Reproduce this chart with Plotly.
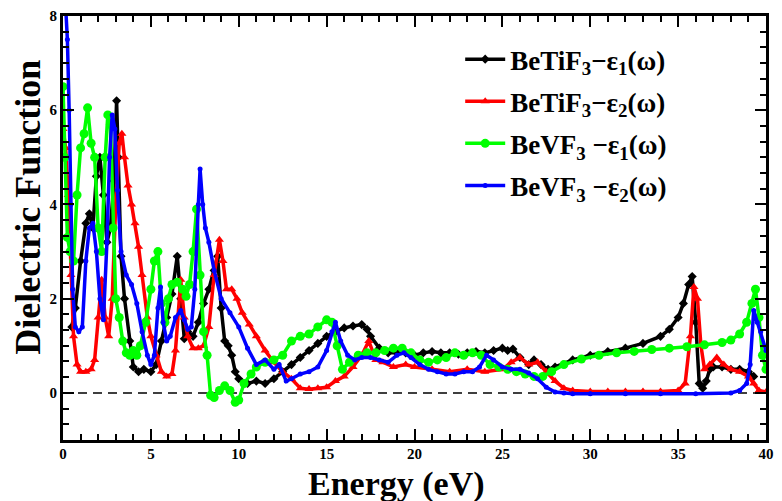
import plotly.graph_objects as go

# ---------------- data ----------------
bt_e1_x = [0.5, 0.7, 1.0, 1.3, 1.5, 1.7, 1.9, 2.1, 2.3, 2.5, 2.7, 2.9, 3.05, 3.15, 3.3, 3.5, 3.8, 4.0, 4.3, 4.6,
           5.0, 5.3, 5.6, 5.9, 6.2, 6.5, 6.7, 6.9, 7.1, 7.4, 7.7, 8.0, 8.3, 8.6, 8.8, 9.0, 9.2, 9.4, 9.6, 9.8,
           10.0, 10.5, 11.0, 11.5, 12.0, 12.5, 13.0, 13.5, 14.0, 14.5, 15.0, 15.5, 16.0, 16.5, 17.0, 17.3, 17.5,
           18.0, 18.5, 19.0, 19.5, 20.0, 20.5, 21.0, 21.5, 22.0, 22.5, 23.0, 23.5, 24.0, 24.5, 25.0, 25.3, 25.6,
           26.0, 26.5, 26.8, 27.2, 27.6, 28.0, 29.0, 30.0, 31.0, 32.0, 33.0, 34.0, 34.5, 35.0, 35.3, 35.6, 35.8,
           36.0, 36.2, 36.4, 36.6, 36.8, 37.0, 37.5, 38.0, 38.5, 39.0, 39.3]
bt_e1_y = [1.4, 1.8, 2.8, 3.6, 3.8, 3.5, 4.6, 5.0, 4.2, 3.2, 3.5, 4.5, 6.2, 5.0, 2.9, 2.0, 1.1, 0.55, 0.45, 0.5,
           0.45, 0.6, 1.1, 1.6, 2.1, 2.9, 2.0, 1.15, 1.3, 1.2, 1.5, 1.9, 2.2, 2.6, 2.9, 1.8, 1.1, 1.0, 0.8, 0.45,
           0.3, 0.2, 0.25, 0.2, 0.3, 0.45, 0.6, 0.75, 0.9, 1.05, 1.2, 1.3, 1.38, 1.42, 1.45, 1.35, 1.2,
           0.95, 0.85, 0.85, 0.85, 0.8, 0.85, 0.88, 0.85, 0.85, 0.82, 0.85, 0.88, 0.85, 0.9, 0.95, 0.9, 0.93,
           0.75, 0.6, 0.7, 0.6, 0.5, 0.55, 0.7, 0.8, 0.88, 0.95, 1.05, 1.2, 1.35, 1.6, 1.9, 2.3, 2.47,
           1.5, 0.2, 0.1, 0.25, 0.5, 0.55, 0.55, 0.5, 0.5, 0.45, 0.35]

bt_e2_x = [0.0, 0.15, 0.3, 0.45, 0.6, 0.8, 1.0, 1.3, 1.6, 1.8, 2.0, 2.2, 2.4, 2.6, 2.8, 3.0, 3.2, 3.35, 3.5, 3.7,
           3.9, 4.1, 4.3, 4.5, 4.8, 5.0, 5.3, 5.6, 5.9, 6.2, 6.4, 6.7, 6.9, 7.1, 7.4, 7.7, 8.0, 8.3, 8.6, 8.9,
           9.1, 9.3, 9.6, 9.9, 10.2, 10.6, 11.0, 11.5, 12.0, 12.5, 13.0, 13.5, 14.0, 14.5, 15.0, 15.5, 16.0,
           16.5, 17.0, 17.4, 17.8, 18.2, 18.8, 19.5, 20.0, 21.0, 22.0, 23.0, 24.0, 25.0, 25.5, 26.0, 26.5,
           27.0, 27.5, 28.0, 28.5, 29.0, 30.0, 31.0, 32.0, 33.0, 34.0, 35.0, 35.4, 35.7, 35.9, 36.1, 36.3,
           36.5, 36.8, 37.2, 37.6, 38.0, 38.5, 39.0, 39.3, 39.6, 40.0]
bt_e2_y = [5.6, 5.2, 4.2, 2.5, 1.2, 0.6, 0.45, 0.45, 0.5, 0.7, 1.6, 2.4, 1.6, 1.2, 2.0, 4.0, 5.3, 5.5, 5.0, 4.4,
           4.0, 3.6, 3.1, 2.5, 1.6, 1.2, 0.8, 0.45, 0.35, 0.4, 0.9, 2.4, 1.6, 1.2, 0.95, 0.95, 1.0, 1.4, 2.5, 3.25,
           2.8, 2.2, 2.2, 2.0, 1.7, 1.45, 1.2, 0.9, 0.65, 0.45, 0.3, 0.1, 0.08, 0.1, 0.12, 0.25, 0.35,
           0.55, 0.8, 1.1, 0.7, 0.65, 0.55, 0.6, 0.55, 0.5, 0.45, 0.5, 0.45, 0.5, 0.65, 0.75, 0.6,
           0.65, 0.45, 0.25, 0.1, 0.05, 0.03, 0.03, 0.03, 0.03, 0.03, 0.05, 0.2, 1.2, 2.25, 2.0, 1.0,
           0.5, 0.6, 0.75, 0.6, 0.5, 0.45, 0.35, 0.2, 0.05, 0.02]

bv_e1_x = [0.0, 0.1, 0.25, 0.4, 0.6, 0.8, 1.0, 1.2, 1.4, 1.6, 1.8, 2.0, 2.2, 2.4, 2.55, 2.7, 2.85, 3.0, 3.2, 3.4,
           3.6, 3.8, 4.0, 4.2, 4.4, 4.7, 5.0, 5.2, 5.4, 5.6, 5.8, 6.0, 6.2, 6.5, 6.8, 7.0, 7.2, 7.4, 7.6, 7.8,
           8.0, 8.2, 8.4, 8.6, 8.9, 9.2, 9.5, 9.8, 10.0, 10.3, 10.7, 11.0, 11.5, 12.0, 12.5, 13.0, 13.5, 14.0,
           14.5, 15.0, 15.3, 15.6, 15.9, 16.3, 16.8, 17.3, 17.8, 18.3, 18.8, 19.3, 19.8, 20.3, 20.8, 21.3,
           21.8, 22.3, 22.8, 23.3, 23.8, 24.3, 24.8, 25.3, 25.8, 26.3, 26.8, 27.3, 27.8, 28.5, 29.5, 30.5,
           31.5, 32.5, 33.5, 34.5, 35.5, 36.5, 37.5, 38.0, 38.5, 38.9, 39.2, 39.4, 39.6, 39.8, 40.0]
bv_e1_y = [6.5, 5.0, 3.3, 3.0, 2.8, 4.2, 5.2, 5.5, 6.05, 5.3, 5.0, 3.5, 3.0, 5.0, 5.9, 5.7, 3.5, 2.0, 1.6, 1.1,
           0.85, 0.8, 0.9, 0.8, 1.0, 1.5, 2.2, 2.8, 3.0, 1.9, 1.5, 2.0, 2.3, 2.35, 2.2, 2.05, 2.3, 3.0, 3.9, 2.5,
           1.3, 0.8, -0.05, -0.1, 0.05, 0.15, 0.05, -0.2, -0.15, 0.2, 0.4, 0.55, 0.65, 0.7, 0.8, 1.1, 1.2, 1.25,
           1.4, 1.55, 1.5, 1.0, 0.5, 0.65, 0.8, 0.85, 0.85, 0.9, 0.95, 0.95, 0.85, 0.7, 0.65, 0.7,
           0.75, 0.85, 0.8, 0.85, 0.8, 0.6, 0.55, 0.5, 0.45, 0.4, 0.35, 0.35, 0.45, 0.6, 0.72, 0.8,
           0.85, 0.88, 0.92, 0.95, 0.98, 1.02, 1.07, 1.12, 1.25, 1.5, 1.9, 2.2, 1.6, 0.8, 0.5]

bv_e2_x = [0.15, 0.25, 0.35, 0.45, 0.55, 0.7, 0.9, 1.1, 1.3, 1.5, 1.7, 1.9, 2.1, 2.3, 2.5, 2.65, 2.8, 2.95, 3.1,
           3.3, 3.6, 3.9, 4.2, 4.5, 4.8, 5.0, 5.2, 5.4, 5.55, 5.7, 5.9, 6.1, 6.4, 6.7, 6.9, 7.1, 7.3, 7.5, 7.7,
           7.8, 7.95, 8.1, 8.3, 8.6, 9.0, 9.5, 10.0, 10.5, 11.0, 11.5, 12.0, 12.3, 12.7, 13.0, 13.5, 14.0, 14.5,
           15.0, 15.3, 15.5, 15.8, 16.2, 16.6, 17.0, 17.5, 18.0, 18.5, 19.0, 19.4, 19.8, 20.3, 20.8, 21.3, 21.8,
           22.3, 22.8, 23.3, 23.7, 24.1, 24.5, 25.0, 25.5, 26.0, 26.5, 27.0, 27.5, 28.0, 28.5, 29.0, 30.0,
           32.0, 34.0, 36.0, 38.0, 38.5, 38.9, 39.1, 39.3, 39.5, 39.7, 40.0]
bv_e2_y = [8.2, 7.5, 6.0, 4.0, 2.2, 1.4, 1.3, 1.4, 2.8, 3.5, 3.6, 3.0, 2.0, 1.55, 3.2, 5.0, 5.9, 5.6, 4.3,
           3.0, 2.5, 2.3, 1.9, 1.3, 0.8, 0.6, 0.8, 1.8, 2.25, 1.5, 1.1, 1.2, 1.6, 1.75, 1.55, 1.35, 1.4, 2.2, 4.0,
           4.75, 4.0, 3.5, 3.2, 2.6, 2.0, 1.7, 1.4, 0.95, 0.6, 0.7, 0.5, 0.6, 0.25, 0.3, 0.4, 0.45, 0.55,
           0.9, 1.3, 1.5, 1.1, 0.8, 0.7, 0.75, 0.75, 0.7, 0.65, 0.8, 0.85, 0.75, 0.6, 0.5, 0.45, 0.4,
           0.4, 0.45, 0.45, 0.55, 0.8, 0.7, 0.55, 0.5, 0.5, 0.42, 0.3, 0.12, 0.02, 0.0, -0.02, -0.02,
           -0.02, -0.02, -0.02, 0.0, 0.05, 0.2, 0.6, 1.75, 1.5, 1.3, 0.9]

names = ["BeTiF<sub>3</sub>−ε<sub>1</sub>(ω)",
         "BeTiF<sub>3</sub>−ε<sub>2</sub>(ω)",
         "BeVF<sub>3</sub> −ε<sub>1</sub>(ω)",
         "BeVF<sub>3</sub> −ε<sub>2</sub>(ω)"]

x_ticks = [0, 5, 10, 15, 20, 25, 30, 35, 40]
y_ticks = [0, 2, 4, 6, 8]

SERIF = "Liberation Serif, Times New Roman, serif"

fig = go.Figure()
series = [
    (bt_e1_x, bt_e1_y, "black", "diamond", 7),
    (bt_e2_x, bt_e2_y, "#ff0000", "triangle-up", 8),
    (bv_e1_x, bv_e1_y, "#00ff00", "circle", 9),
    (bv_e2_x, bv_e2_y, "#0000ff", "circle", 5),
]
for i, (xs, ys, col, sym, ms) in enumerate(series):
    fig.add_trace(go.Scatter(
        x=xs, y=ys, mode="lines+markers", name=names[i], legendgroup=f"g{i}",
        line=dict(color=col, width=3.5),
        marker=dict(color=col, symbol=sym, size=ms, line=dict(width=0)),
        cliponaxis=True,
    ))

# zero reference line
fig.add_hline(y=0, line=dict(color="black", width=1.5, dash="9px,6px"), layer="below")

axis_common = dict(
    showline=True, linecolor="black", linewidth=3, mirror="allticks",
    ticks="inside", tickcolor="black", tickwidth=2,
    showgrid=False, zeroline=False,
    tickfont=dict(family=SERIF, size=15, color="black", weight="bold"),
)
fig.update_xaxes(range=[0, 40], tickvals=x_ticks, ticklen=11, ticklabelstandoff=-2,
                 minor=dict(dtick=1, tick0=0, ticks="inside", ticklen=6, tickwidth=2, tickcolor="black"),
                 **axis_common)
fig.update_yaxes(range=[-1, 8], tickvals=y_ticks, ticklen=11,
                 minor=dict(dtick=1/3, tick0=0, ticks="inside", ticklen=6, tickwidth=2, tickcolor="black"),
                 **axis_common)

fig.update_layout(
    width=782, height=501,
    margin=dict(l=63, r=8, t=8, b=61),
    paper_bgcolor="white", plot_bgcolor="white",
    showlegend=True,
    legend=dict(
        x=0.565, y=0.955, xanchor="left", yanchor="top",
        bgcolor="rgba(0,0,0,0)", borderwidth=0,
        font=dict(family=SERIF, size=27, color="black", weight="bold"),
        itemwidth=40, tracegroupgap=4,
    ),
    annotations=[
        dict(text="Energy (eV)", xref="paper", yref="paper", x=0.475, y=-0.104,
             xanchor="center", yanchor="middle", showarrow=False,
             font=dict(family=SERIF, size=34, color="black", weight="bold")),
        dict(text="Dielectric Function", xref="paper", yref="paper", x=-0.05, y=0.55,
             xanchor="center", yanchor="middle", showarrow=False, textangle=-90,
             font=dict(family=SERIF, size=36, color="black", weight="bold")),
    ],
)

fig.write_html("out.html")
